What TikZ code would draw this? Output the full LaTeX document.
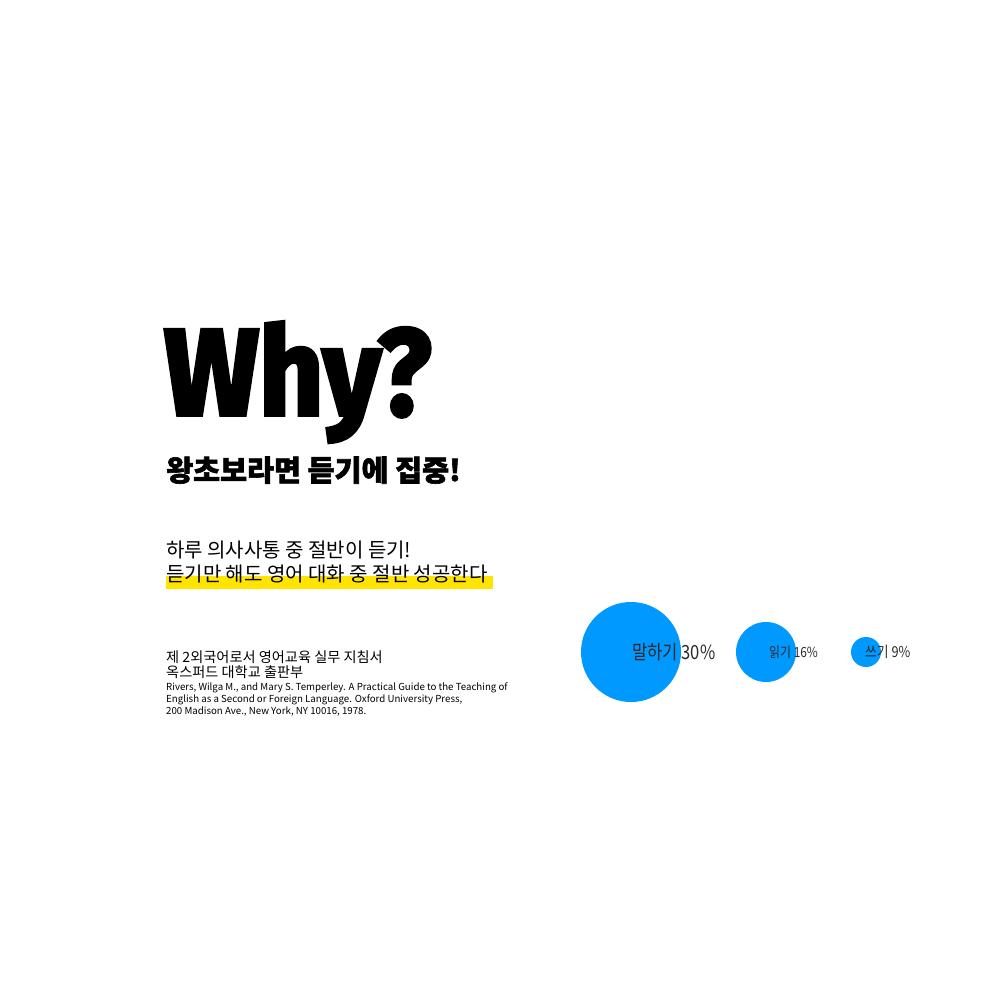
\documentclass[tikz,border=0pt]{standalone}
\usepackage{fontspec}
\setmainfont{Noto Sans CJK KR}
\newfontfamily\whyfont[FakeStretch=0.91,FakeBold=3]{Fira Sans}
\newfontfamily\heavykr[FakeBold=2,FakeStretch=1.01]{Noto Sans CJK KR}
\newfontfamily\condkr[FakeStretch=0.85]{Noto Sans CJK KR}
\usepackage{tikz}
\definecolor{skyblue}{RGB}{0,153,255}
\definecolor{marker}{RGB}{255,228,0}
\definecolor{labelgray}{RGB}{40,40,40}
\tikzset{
  bubble/.style={circle,fill=skyblue,inner sep=0pt,minimum size=#1},
  pct/.style={anchor=west,inner sep=0pt,text=labelgray},
  txtline/.style={anchor=base west,inner sep=0pt}
}

\begin{document}
\begin{tikzpicture}[x=1pt,y=-1pt]
\useasboundingbox (0,0) rectangle (1000,1000);
\node[txtline,font=\whyfont\bfseries\fontsize{123}{123}\selectfont] (why) at (164,415) {Why?};
\node[txtline,font=\heavykr\bfseries\fontsize{29}{29}\selectfont] (focus) at (166,481) {왕초보라면 듣기에 집중!};
\fill[marker] (166,576) rectangle (493,589);
\node[txtline,font=\fontsize{20}{20}\selectfont] (half) at (166,557.5) {하루 의사사통 중 절반이 듣기!};
\node[txtline,font=\fontsize{20}{20}\selectfont] (success) at (166,581.5) {듣기만 해도 영어 대화 중 절반 성공한다};
\node[txtline,font=\fontsize{14.2}{14.2}\selectfont] (book) at (166,662) {제 2외국어로서 영어교육 실무 지침서};
\node[txtline,font=\fontsize{14.2}{14.2}\selectfont] (press) at (166,677) {옥스퍼드 대학교 출판부};
\node[txtline,font=\fontsize{9.7}{11.7}\selectfont,align=left] (ref) at (166,714) {Rivers, Wilga M., and Mary S. Temperley. A Practical Guide to the Teaching of\\English as a Second or Foreign Language. Oxford University Press,\\200 Madison Ave., New York, NY 10016, 1978.};
\node[bubble=100pt] (speak) at (631,652) {};
\node[bubble=60pt] (read) at (766,652) {};
\node[bubble=30pt] (write) at (866,652) {};
\node[pct,font=\condkr\fontsize{19.5}{19.5}\selectfont] (speaklbl) at (632,652) {말하기 30\%};
\node[pct,font=\condkr\fontsize{14}{14}\selectfont] (readlbl) at (769,652) {읽기 16\%};
\node[pct,font=\condkr\fontsize{15}{15}\selectfont] (writelbl) at (865,652) {쓰기 9\%};
\end{tikzpicture}
\end{document}
